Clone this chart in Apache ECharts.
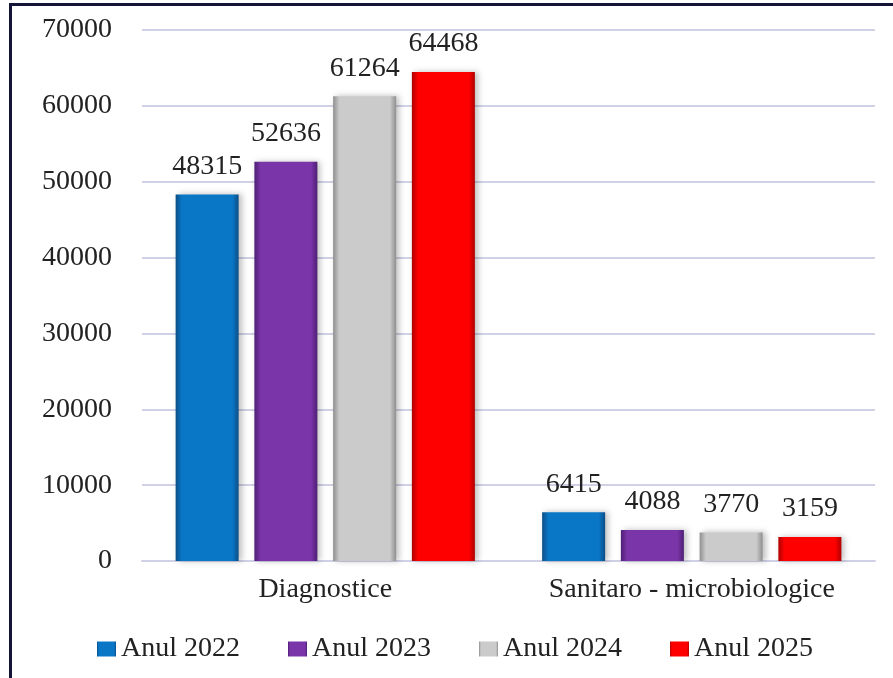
<!DOCTYPE html>
<html>
<head>
<meta charset="utf-8">
<script src="https://cdn.jsdelivr.net/npm/echarts@6/dist/echarts.min.js"></script>
<style>
  html, body { margin: 0; padding: 0; background: #fff; }
  #chart { width: 893px; height: 678px; }
  /* chenar din stanga si de sus */
  #frame {
    position: absolute; left: 9px; top: 3px; width: 884px; height: 675px;
    border-left: 3px solid #15153a; border-top: 3px solid #15153a;
    pointer-events: none;
  }
</style>
</head>
<body>
<div id="chart"></div>
<div id="frame"></div>
<script>
const categories = ['Diagnostice', 'Sanitaro - microbiologice']
const years = ['Anul 2022', 'Anul 2023', 'Anul 2024', 'Anul 2025']
const v2022 = [48315, 6415]
const v2023 = [52636, 4088]
const v2024 = [61264, 3770]
const v2025 = [64468, 3159]

const values = [v2022, v2023, v2024, v2025]
// [margine, mijloc]
const colors = [
  ['#0b4f86', '#0a76c6'],
  ['#4e1f75', '#7a35a8'],
  ['#8f8f8f', '#cbcbcb'],
  ['#b00000', '#ff0000']
]

const font = '"Liberation Serif", "Times New Roman", serif'
const textColor = '#222'

function bevel(c) {
  return new echarts.graphic.LinearGradient(0, 0, 1, 0, [
    { offset: 0, color: c[0] },
    { offset: 0.1, color: c[1] },
    { offset: 0.9, color: c[1] },
    { offset: 1, color: c[0] }
  ])
}

const chart = echarts.init(document.getElementById('chart'))

const series = years.map((name, i) => ({
  name,
  type: 'bar',
  data: values[i],
  barWidth: 63,
  barGap: '25%',
  itemStyle: {
    color: bevel(colors[i]),
    shadowColor: 'rgba(0,0,0,0.25)',
    shadowBlur: 6,
    shadowOffsetX: 3
  },
  label: {
    show: true,
    position: 'top',
    distance: 14,
    fontFamily: font,
    fontSize: 28,
    color: textColor
  }
}))

chart.setOption({
  animation: false,
  grid: { left: 142, right: 18, top: 30, bottom: 117 },
  legend: {
    data: years,
    left: 92,
    top: 630,
    icon: 'rect',
    itemWidth: 19,
    itemHeight: 15,
    itemGap: 48,
    textStyle: { fontFamily: font, fontSize: 28, color: textColor }
  },
  xAxis: {
    type: 'category',
    data: categories,
    axisLine: { lineStyle: { color: '#d0d0e6', width: 2 } },
    axisTick: { show: false },
    axisLabel: {
      interval: 0, hideOverlap: false,
      fontFamily: font, fontSize: 28, color: textColor, margin: 15
    }
  },
  yAxis: {
    type: 'value',
    min: 0,
    max: 70000,
    interval: 10000,
    axisLine: { show: false },
    axisTick: { show: false },
    splitLine: { lineStyle: { color: '#d0d0e6', width: 2 } },
    axisLabel: {
      fontFamily: font, fontSize: 28, color: textColor, margin: 30,
      formatter: v => String(v)
    }
  },
  series
})
</script>
</body>
</html>
